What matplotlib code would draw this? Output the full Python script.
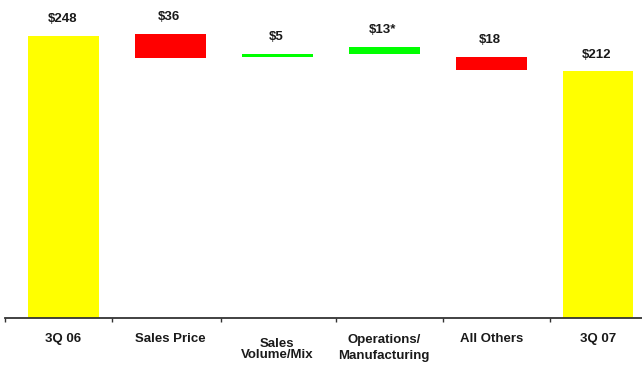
import matplotlib
matplotlib.use("Agg")
import matplotlib.pyplot as plt

# waterfall categories and the labels printed above each bar
categories = ["3Q 06", "Sales Price", "Sales\nVolume/Mix", "Operations/\nManufacturing", "All Others", "3Q 07"]
value_labels = ["\\$248", "\\$36", "\\$5", "\\$13*", "\\$18", "\\$212"]
# bar extents as drawn in the original slide ($M)
bar_bottom = [0, 229.0, 229.5, 232.2, 218.0, 0]
bar_top = [248, 250.0, 232.2, 238.3, 229.5, 217.0]
bar_colors = ["#FFFF00", "#FF0000", "#00FF00", "#00FF00", "#FF0000", "#FFFF00"]

plt.rcParams["font.family"] = ["Liberation Sans", "DejaVu Sans"]
plt.rcParams["font.weight"] = "bold"

W, H = 642, 367
fig = plt.figure(figsize=(W / 100, H / 100), dpi=100)
ax = fig.add_axes([5 / W, 49 / H, 637 / W, 318 / H])

x = list(range(len(categories)))
heights = [t - b for t, b in zip(bar_top, bar_bottom)]
ax.bar(x, heights, bottom=bar_bottom, width=0.66, color=bar_colors, edgecolor="none")

for xi, top, lab in zip(x, bar_top, value_labels):
    ax.annotate(lab, xy=(xi, top), xytext=(-1, 12.0), textcoords="offset points",
                ha="center", va="center", fontsize=9.5, fontweight="bold", color="#1a1a1a")

# category labels under the axis (offsets in points, per label)
label_offsets = [-10.5, -10.5, -14.5, -11.5, -10.5, -10.5]
label_spacing = [1.0, 1.0, 0.85, 1.4, 1.0, 1.0]
for xi, cat, off, ls in zip(x, categories, label_offsets, label_spacing):
    ax.annotate(cat, xy=(xi, 0), xycoords=("data", "axes fraction"), xytext=(0, off),
                textcoords="offset points", ha="center", va="top", fontsize=9.5,
                fontweight="bold", color="#1a1a1a", linespacing=ls, annotation_clip=False)

ax.set_xlim(-0.547, 5.41)
ax.set_ylim(0, 279.7)
ax.set_xticks([-0.547, 0.45, 1.47, 2.55, 3.55, 4.55])
ax.set_xticklabels([])
ax.set_yticks([])
ax.tick_params(axis="x", direction="out", length=3, width=1, color="#333333")
for s in ["top", "right", "left"]:
    ax.spines[s].set_visible(False)
ax.spines["bottom"].set_color("#333333")
ax.spines["bottom"].set_linewidth(1.3)
ax.patch.set_alpha(0)

fig.savefig("out.png", dpi=100)
